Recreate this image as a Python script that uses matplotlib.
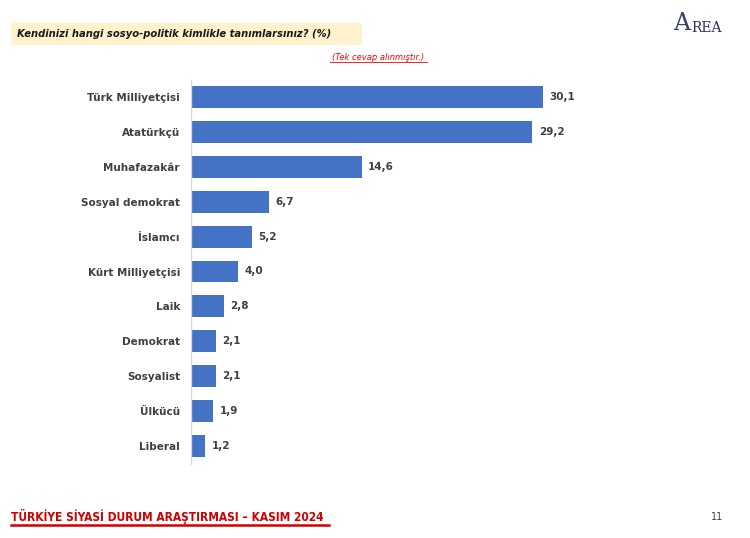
import matplotlib
matplotlib.use("Agg")
import matplotlib.pyplot as plt
from matplotlib.patches import Rectangle
from matplotlib import font_manager

categories = ["Türk Milliyetçisi", "Atatürkçü", "Muhafazakâr", "Sosyal demokrat", "İslamcı",
              "Kürt Milliyetçisi", "Laik", "Demokrat", "Sosyalist", "Ülkücü", "Liberal"]
values = [30.1, 29.2, 14.6, 6.7, 5.2, 4.0, 2.8, 2.1, 2.1, 1.9, 1.2]
value_labels = ["30,1", "29,2", "14,6", "6,7", "5,2", "4,0", "2,8", "2,1", "2,1", "1,9", "1,2"]

title = "Kendinizi hangi sosyo-politik kimlikle tanımlarsınız? (%)"
note = "(Tek cevap alınmıştır.)"
footer = "TÜRKİYE SİYASİ DURUM ARAŞTIRMASI – KASIM 2024"
page = "11"

plt.rcParams['font.family'] = ['DejaVu Sans']

W, H = 750, 538
fig = plt.figure(figsize=(W/100, H/100), dpi=100)

xmax = 33.0
px_per = (543 - 191) / 30.1
ax_w = xmax * px_per
ax_top, ax_bot = 79.5, 463.5
ax = fig.add_axes([191/W, 1 - ax_bot/H, ax_w/W, (ax_bot-ax_top)/H])
y = list(range(len(categories)))
ax.barh(y, values, height=0.63, color="#4472C4")
ax.set_xlim(0, xmax)
ax.set_ylim(len(categories) - 0.5, -0.5)
ax.set_yticks(y)
ax.set_yticklabels(categories, fontsize=7.5, fontweight="bold", color="#404040")
ax.tick_params(axis="y", length=0, pad=8)
ax.set_xticks([])
for s in ["top", "right", "bottom"]:
    ax.spines[s].set_visible(False)
ax.spines["left"].set_color("#D9D9D9")
ax.spines["left"].set_linewidth(1)
for yi, v, lab in zip(y, values, value_labels):
    ax.text(v + 0.55, yi, lab, va="center", ha="left", fontsize=7.5,
            fontweight="bold", color="#404040")

fig.patches.append(Rectangle((11/W, 1 - 45/H), (362-11)/W, 22/H,
                             transform=fig.transFigure, facecolor="#FFF2CC",
                             edgecolor="none", zorder=0))
fig.text(17/W, 1 - 34/H, title, fontsize=7.2, fontweight="bold", style="italic",
         color="#1a1a1a", va="center", ha="left")
fig.text(378/W, 1 - 58/H, note, fontsize=6, style="italic", color="#FF0000",
         va="center", ha="center")
fig.add_artist(plt.Line2D([330/W, 427/W], [1 - 62/H, 1 - 62/H], color="#FF0000", lw=0.6))

fig.text(682/W, 1 - 24/H, "A", fontsize=17, family="DejaVu Serif", color="#3B3F6B",
         va="center", ha="center")
fig.text(707/W, 1 - 28/H, "REA", fontsize=10, family="DejaVu Serif", color="#2B2F5B",
         va="center", ha="center")

ft = fig.text(11/W, 1 - 516/H, footer, fontsize=10.5, fontweight="bold", color="#D00000",
              va="center", ha="left", fontstretch="condensed")
fig.canvas.draw()
bb = ft.get_window_extent()
ft.set_fontsize(10.5 * (329 - 11) / bb.width)
fig.add_artist(plt.Line2D([11/W, 329/W], [1 - 524.5/H, 1 - 524.5/H], color="#D00000", lw=1.8))
fig.text(717/W, 1 - 517/H, page, fontsize=7, color="#404040", va="center", ha="center")

fig.savefig("out.png", dpi=100)
